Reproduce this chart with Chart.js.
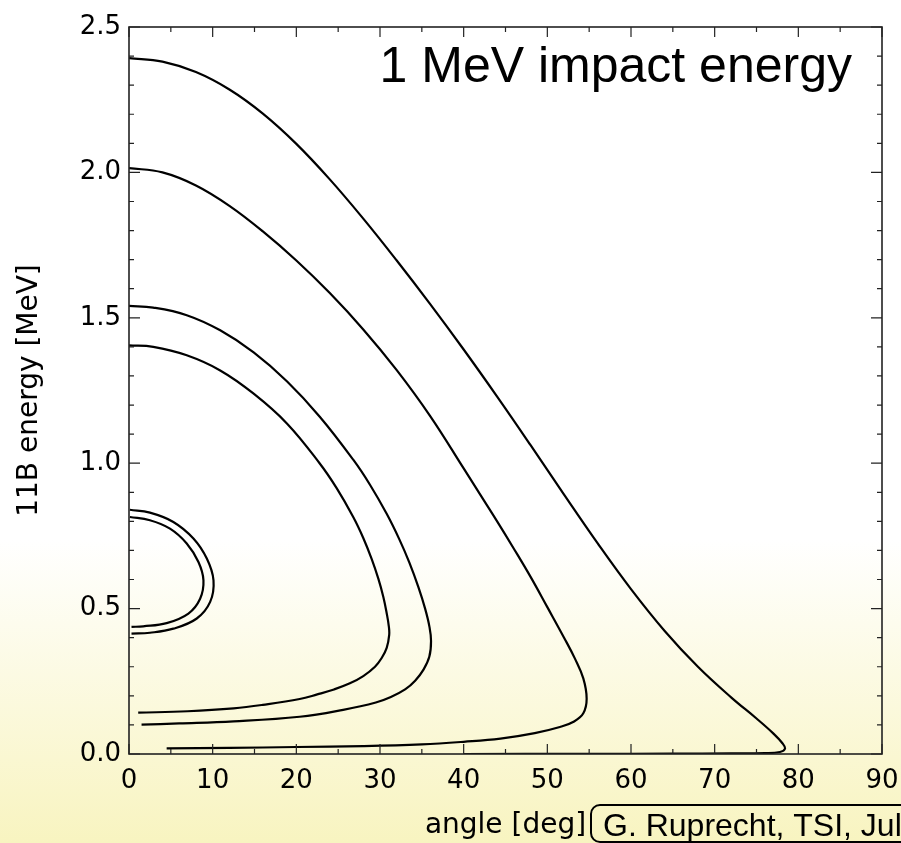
<!DOCTYPE html>
<html>
<head>
<meta charset="utf-8">
<title>11B energy vs angle</title>
<script src="https://cdn.jsdelivr.net/npm/chart.js@4.4.1/dist/chart.umd.min.js"></script>
<style>
  html, body { margin: 0; padding: 0; background: #fff; }
  #kinChart { display: block; }
</style>
</head>
<body>
<canvas id="kinChart" width="901" height="843"></canvas>
<script>
// kinematic curves, angle in deg / 11B energy in MeV
const curve1Angle  = [0, 4, 8, 12, 16, 20, 24, 28, 32, 36, 40, 44, 48, 52, 56, 60, 64, 68, 72, 75, 77, 78.1, 78.4, 77.8, 76, 72, 65, 55, 40];
const curve1Energy = [2.393, 2.381, 2.345, 2.285, 2.202, 2.098, 1.976, 1.841, 1.697, 1.547, 1.391, 1.229, 1.062, 0.892, 0.725, 0.567, 0.424, 0.300, 0.194, 0.122, 0.071, 0.037, 0.018, 0.007, 0.003, 0.002, 0.001, 0.0005, 0.0];

const curve2Angle  = [0, 4, 8, 12, 16, 20, 24, 28, 32, 36, 40, 42, 44, 46, 48, 50, 52, 53.3, 54.3, 54.7, 54.3, 53.2, 51.5, 48.5, 44.4, 40, 35, 28, 20, 12, 4.5];
const curve2Energy = [2.015, 2.000, 1.955, 1.885, 1.797, 1.697, 1.585, 1.460, 1.320, 1.162, 0.982, 0.891, 0.800, 0.706, 0.609, 0.505, 0.400, 0.328, 0.260, 0.190, 0.140, 0.112, 0.093, 0.072, 0.053, 0.042, 0.033, 0.027, 0.024, 0.021, 0.019];

const curve3Angle  = [0, 2.9, 6.9, 10.9, 14.9, 18.9, 22.8, 26.8, 28.8, 30.8, 32.3, 33.5, 34.6, 35.4, 35.9, 36.1, 35.9, 35.2, 34.2, 33.0, 31.3, 29.5, 25.6, 20.4, 12.5, 6, 1.5];
const curve3Energy = [1.541, 1.535, 1.509, 1.457, 1.381, 1.281, 1.160, 1.012, 0.926, 0.826, 0.739, 0.659, 0.573, 0.499, 0.439, 0.389, 0.335, 0.290, 0.252, 0.222, 0.196, 0.177, 0.152, 0.128, 0.112, 0.105, 0.101];

const curve4Angle  = [0, 2.9, 6.9, 10.9, 14.9, 18.9, 22.8, 24.8, 26.8, 28.0, 29.0, 29.8, 30.4, 30.8, 31.05, 31.1, 30.8, 30.2, 29.4, 28.0, 26.4, 24.5, 22.5, 20.4, 16, 12.5, 7, 1.1];
const curve4Energy = [1.405, 1.400, 1.371, 1.319, 1.239, 1.136, 0.999, 0.915, 0.815, 0.743, 0.671, 0.603, 0.540, 0.484, 0.440, 0.410, 0.365, 0.330, 0.300, 0.268, 0.243, 0.222, 0.205, 0.189, 0.169, 0.157, 0.147, 0.142];

const curve5Angle  = [0.1, 2.5, 5.3, 7.7, 9.3, 10.1, 9.7, 8.1, 5.3, 2.5, 0.3];
const curve5Energy = [0.840, 0.830, 0.798, 0.741, 0.672, 0.597, 0.523, 0.466, 0.431, 0.417, 0.414];

const curve6Angle  = [0.1, 2.5, 4.9, 6.9, 8.3, 8.9, 8.5, 7.1, 4.5, 1.7, 0.3];
const curve6Energy = [0.815, 0.804, 0.775, 0.724, 0.660, 0.597, 0.534, 0.483, 0.450, 0.439, 0.437];

const xMajorTicks = [0, 10, 20, 30, 40, 50, 60, 70, 80, 90];
const xMinorTicks = [5, 15, 25, 35, 45, 55, 65, 75, 85];
const yMajorTicks = [0, 0.5, 1.0, 1.5, 2.0, 2.5];
const yMinorTicks = [0.1, 0.2, 0.3, 0.4, 0.6, 0.7, 0.8, 0.9, 1.1, 1.2, 1.3, 1.4,
                     1.6, 1.7, 1.8, 1.9, 2.1, 2.2, 2.3, 2.4];

const plotTitle = '1 MeV impact energy';
const creditText = 'G. Ruprecht, TSI, Jul';

function toPoints(angles, energies) {
    return angles.map((a, i) => ({ x: a, y: energies[i] }));
}

const curves = [
    [curve1Angle, curve1Energy],
    [curve2Angle, curve2Energy],
    [curve3Angle, curve3Energy],
    [curve4Angle, curve4Energy],
    [curve5Angle, curve5Energy],
    [curve6Angle, curve6Energy]
];

// pale yellow fade behind the lower part of the page
const backdrop = {
    id: 'backdrop',
    beforeDraw(chart) {
        const { ctx, width, height } = chart;
        const g = ctx.createLinearGradient(0, 0, 0, height);
        g.addColorStop(0, '#ffffff');
        g.addColorStop(0.64, '#ffffff');
        g.addColorStop(1, '#f8f4c0');
        ctx.save();
        ctx.fillStyle = g;
        ctx.fillRect(0, 0, width, height);
        ctx.restore();
    }
};

// box frame with inward ticks on all four sides
const frameTicks = {
    id: 'frameTicks',
    afterDatasetsDraw(chart) {
        const { ctx, chartArea: a, scales: { x, y } } = chart;
        ctx.save();
        ctx.strokeStyle = '#222';
        ctx.lineWidth = 1.2;
        ctx.beginPath();
        const xTick = (v, len) => {
            const px = x.getPixelForValue(v);
            ctx.moveTo(px, a.bottom); ctx.lineTo(px, a.bottom - len);
            ctx.moveTo(px, a.top); ctx.lineTo(px, a.top + len);
        };
        const yTick = (v, len) => {
            const py = y.getPixelForValue(v);
            ctx.moveTo(a.left, py); ctx.lineTo(a.left + len, py);
            ctx.moveTo(a.right, py); ctx.lineTo(a.right - len, py);
        };
        xMajorTicks.forEach(v => xTick(v, 10));
        xMinorTicks.forEach(v => xTick(v, 5));
        yMajorTicks.forEach(v => yTick(v, 11));
        yMinorTicks.forEach(v => yTick(v, 5));
        ctx.stroke();
        ctx.lineWidth = 1.6;
        ctx.strokeRect(a.left, a.top, a.width, a.height);
        ctx.restore();
    }
};

// big caption inside the plot and the credit box under it
const captions = {
    id: 'captions',
    afterDraw(chart) {
        const { ctx, chartArea: a } = chart;
        ctx.save();
        ctx.fillStyle = '#000';
        ctx.font = '50px "Liberation Sans", Arial, sans-serif';
        ctx.textAlign = 'right';
        ctx.textBaseline = 'alphabetic';
        ctx.fillText(plotTitle, a.right - 30, 82);

        ctx.strokeStyle = '#000';
        ctx.lineWidth = 2;
        ctx.beginPath();
        ctx.roundRect(591, 805, 400, 37, 9);
        ctx.stroke();
        ctx.font = '32px "Liberation Sans", Arial, sans-serif';
        ctx.textAlign = 'left';
        ctx.fillText(creditText, 603, 836);
        ctx.restore();
    }
};

function renderKinematicsChart(canvasId) {
    const ctx = document.getElementById(canvasId);
    if (!ctx) {
        console.error(`Canvas element with ID ${canvasId} not found`);
        return;
    }

    const tickFont = { family: '"DejaVu Sans", sans-serif', size: 26 };
    const titleFont = { family: '"DejaVu Sans", sans-serif', size: 28 };

    ctx.chart = new Chart(ctx, {
        type: 'scatter',
        data: {
            datasets: curves.map(([angles, energies]) => ({
                data: toPoints(angles, energies),
                showLine: true,
                borderColor: '#000',
                borderWidth: 2.2,
                pointRadius: 0,
                tension: 0.4,
                fill: false
            }))
        },
        options: {
            responsive: false,
            animation: false,
            layout: {
                padding: { top: 27, right: 19, bottom: 0, left: 0 }
            },
            plugins: {
                legend: { display: false },
                tooltip: { enabled: false }
            },
            scales: {
                x: {
                    type: 'linear',
                    min: 0,
                    max: 90,
                    afterBuildTicks: scale => {
                        scale.ticks = xMajorTicks.map(v => ({ value: v }));
                    },
                    afterFit: scale => {
                        scale.height = 89;
                        scale.paddingLeft = 0;
                        scale.paddingRight = 0;
                    },
                    grid: { display: false, drawTicks: false },
                    border: { display: false },
                    ticks: {
                        font: tickFont,
                        color: '#000',
                        padding: 12,
                        maxRotation: 0,
                        callback: v => String(v)
                    },
                    title: {
                        display: true,
                        text: 'angle [deg]',
                        font: titleFont,
                        color: '#000',
                        padding: { top: 0, bottom: 0 }
                    }
                },
                y: {
                    type: 'linear',
                    min: 0,
                    max: 2.5,
                    afterBuildTicks: scale => {
                        scale.ticks = yMajorTicks.map(v => ({ value: v }));
                    },
                    afterFit: scale => {
                        scale.width = 129;
                        scale.paddingTop = 0;
                        scale.paddingBottom = 0;
                    },
                    grid: { display: false, drawTicks: false },
                    border: { display: false },
                    ticks: {
                        font: tickFont,
                        color: '#000',
                        padding: 8,
                        callback: v => v.toFixed(1)
                    },
                    title: {
                        display: true,
                        text: '11B energy [MeV]',
                        font: titleFont,
                        color: '#000',
                        padding: { top: 13, bottom: 0 }
                    }
                }
            }
        },
        plugins: [backdrop, frameTicks, captions]
    });
}

renderKinematicsChart('kinChart');
</script>
</body>
</html>
